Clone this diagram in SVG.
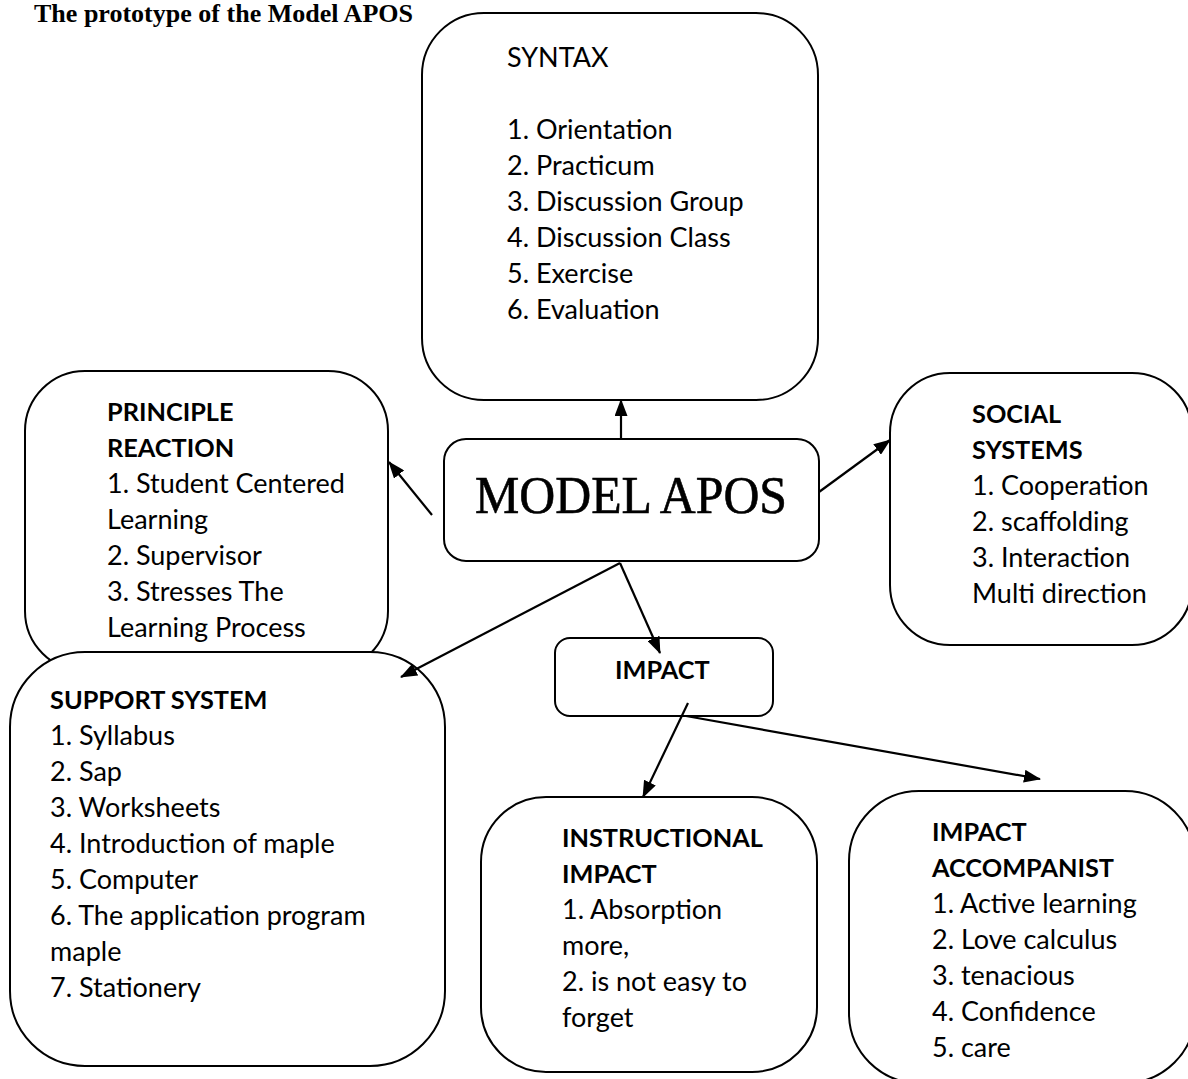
<svg xmlns="http://www.w3.org/2000/svg" width="1188" height="1079" viewBox="0 0 1188 1079">
<style>
.box{fill:#fff;stroke:#000;stroke-width:2}
.t{font-family:Lato,"Open Sans","Liberation Sans",sans-serif;font-size:27px;fill:#000}
.b{font-weight:bold;font-size:25.3px}
.title{font-family:"Liberation Serif","Times New Roman",serif;font-weight:bold;font-size:25px;fill:#000}
.model{font-family:"Liberation Serif","DejaVu Serif",serif;font-size:52px;fill:#000;stroke:#000;stroke-width:0.6}
.c{stroke:#000;stroke-width:2.2;fill:none;marker-end:url(#ah)}
</style>
<defs>
<marker id="ah" markerWidth="17" markerHeight="13" refX="16" refY="6.5" orient="auto" markerUnits="userSpaceOnUse">
<path d="M0,0 L17,6.5 L0,13 Z" fill="#000"/>
</marker>
</defs>
<rect width="1188" height="1079" fill="#fff"/>
<text class="title" x="34" y="22" textLength="379" lengthAdjust="spacingAndGlyphs">The prototype of the Model APOS</text>

<g id="syntax">
<rect class="box" x="422" y="13" width="396" height="387" rx="62"/>
<text class="t" x="507" y="67">SYNTAX</text>
<text class="t" x="507" y="139">1. Orientation</text>
<text class="t" x="507" y="175">2. Practicum</text>
<text class="t" x="507" y="211">3. Discussion Group</text>
<text class="t" x="507" y="247">4. Discussion Class</text>
<text class="t" x="507" y="283">5. Exercise</text>
<text class="t" x="507" y="319">6. Evaluation</text>
</g>

<g id="principle">
<rect class="box" x="25" y="371" width="363" height="300" rx="60"/>
<text class="t b" x="107" y="421">PRINCIPLE</text>
<text class="t b" x="107" y="457">REACTION</text>
<text class="t" x="107" y="493">1. Student Centered</text>
<text class="t" x="107" y="529">Learning</text>
<text class="t" x="107" y="565">2. Supervisor</text>
<text class="t" x="107" y="601">3. Stresses The</text>
<text class="t" x="107" y="637">Learning Process</text>
</g>

<g id="support">
<rect class="box" x="10" y="652" width="435" height="414" rx="75"/>
<text class="t b" x="50" y="709">SUPPORT SYSTEM</text>
<text class="t" x="50" y="745">1. Syllabus</text>
<text class="t" x="50" y="781">2. Sap</text>
<text class="t" x="50" y="817">3. Worksheets</text>
<text class="t" x="50" y="853">4. Introduction of maple</text>
<text class="t" x="50" y="889">5. Computer</text>
<text class="t" x="50" y="925">6. The application program</text>
<text class="t" x="50" y="961">maple</text>
<text class="t" x="50" y="997">7. Stationery</text>
</g>

<g id="model">
<rect class="box" x="444" y="439" width="375" height="122" rx="22"/>
<text class="model" x="475" y="513" textLength="312" lengthAdjust="spacingAndGlyphs">MODEL APOS</text>
</g>

<g id="social">
<rect class="box" x="890" y="373" width="302" height="272" rx="60"/>
<text class="t b" x="972" y="423">SOCIAL</text>
<text class="t b" x="972" y="459">SYSTEMS</text>
<text class="t" x="972" y="495">1. Cooperation</text>
<text class="t" x="972" y="531">2. scaffolding</text>
<text class="t" x="972" y="567">3. Interaction</text>
<text class="t" x="972" y="603">Multi direction</text>
</g>

<g id="impact">
<rect class="box" x="555" y="638" width="218" height="78" rx="15"/>
<text class="t b" x="615" y="679">IMPACT</text>
</g>

<g id="instructional">
<rect class="box" x="481" y="797" width="336" height="275" rx="65"/>
<text class="t b" x="562" y="847">INSTRUCTIONAL</text>
<text class="t b" x="562" y="883">IMPACT</text>
<text class="t" x="562" y="919">1. Absorption</text>
<text class="t" x="562" y="955">more,</text>
<text class="t" x="562" y="991">2. is not easy to</text>
<text class="t" x="562" y="1027">forget</text>
</g>

<g id="accompanist">
<rect class="box" x="849" y="791" width="346" height="292" rx="70"/>
<text class="t b" x="932" y="841">IMPACT</text>
<text class="t b" x="932" y="877">ACCOMPANIST</text>
<text class="t" x="932" y="913">1. Active learning</text>
<text class="t" x="932" y="949">2. Love calculus</text>
<text class="t" x="932" y="985">3. tenacious</text>
<text class="t" x="932" y="1021">4. Confidence</text>
<text class="t" x="932" y="1057">5. care</text>
</g>

<g id="connectors">
<line class="c" x1="621" y1="439" x2="621" y2="400"/>
<line class="c" x1="432" y1="515" x2="389" y2="462"/>
<line class="c" x1="819" y1="492" x2="890" y2="440"/>
<line class="c" x1="620" y1="563" x2="401" y2="677"/>
<line class="c" x1="620" y1="563" x2="660" y2="653"/>
<line class="c" x1="688" y1="703" x2="643" y2="797"/>
<line class="c" x1="686" y1="716" x2="1040" y2="779"/>
</g>
</svg>
